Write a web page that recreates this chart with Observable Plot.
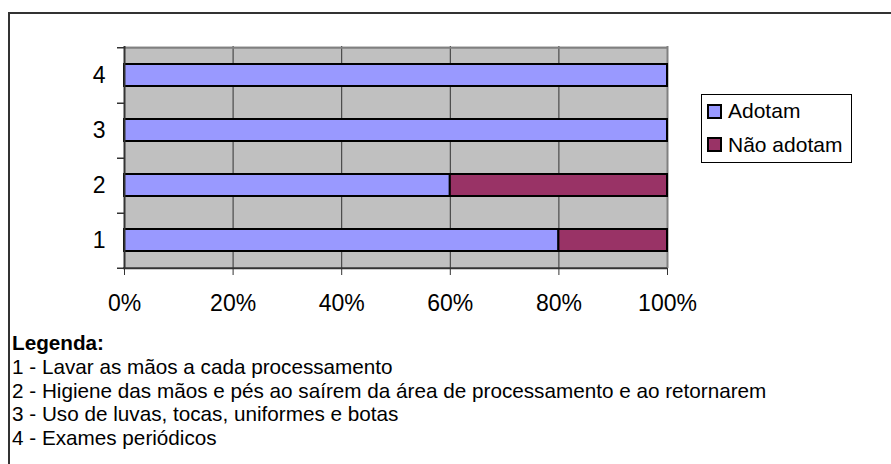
<!DOCTYPE html>
<html>
<head>
<meta charset="utf-8">
<script src="https://cdn.jsdelivr.net/npm/d3@7"></script>
<script src="https://cdn.jsdelivr.net/npm/@observablehq/plot@0.6"></script>
<style>
  html, body { margin: 0; padding: 0; background: #fff; }
  #wrap { position: relative; width: 891px; height: 464px; overflow: hidden; font-family: Arial, "Liberation Sans", sans-serif; color: #000; }
  #frame { position: absolute; left: 8px; top: 12px; width: 900px; height: 470px; border-top: 2px solid #333; border-left: 2px solid #333; }
  #chart { position: absolute; left: 0; top: 0; }
  #legend { position: absolute; left: 701px; top: 94px; width: 149px; height: 67px; border: 1px solid #000; background: #fff; }
  .sw { position: absolute; width: 11px; height: 11px; border: 2px solid #000; }
  .lt { position: absolute; font-size: 21px; line-height: 20px; white-space: nowrap; }
  #caption { position: absolute; left: 12px; top: 330px; font-size: 20.7px; white-space: nowrap; }
  #caption div { line-height: 23.5px; }
  #caption .h { font-weight: bold; line-height: 25px; }
</style>
</head>
<body>
<div id="wrap">
  <div id="frame"></div>
  <div id="chart"></div>
  <div id="legend"></div>
  <div id="caption"></div>
</div>
<script>
const categories = ["1", "2", "3", "4"];
const series = ["Adotam", "Não adotam"];
const adotam = [0.8, 0.6, 1.0, 1.0];
const naoAdotam = [0.2, 0.4, 0.0, 0.0];
const colors = ["#9999FF", "#993366"];
const xTicks = [0, 0.2, 0.4, 0.6, 0.8, 1.0];
const captionTitle = "Legenda:";
const captionLines = [
  "1 - Lavar as mãos a cada processamento",
  "2 - Higiene das mãos e pés ao saírem da área de processamento e ao retornarem",
  "3 - Uso de luvas, tocas, uniformes e botas",
  "4 - Exames periódicos"
];

const data = [];
categories.forEach((c, i) => data.push({cat: c, serie: series[0], value: adotam[i]}));
categories.forEach((c, i) => data.push({cat: c, serie: series[1], value: naoAdotam[i]}));
const bars = data.filter(d => d.value > 0);

const W = 891, H = 330;
const mT = 46, mB = H - 268, mL = 124, mR = W - 667;
const yOrder = categories.slice().reverse();
const step = (H - mT - mB) / categories.length;

const plot = Plot.plot({
  width: W,
  height: H,
  marginTop: mT,
  marginBottom: mB,
  marginLeft: mL,
  marginRight: mR,
  style: {background: "transparent", fontFamily: "Arial, 'Liberation Sans', sans-serif", color: "#000"},
  x: {domain: [0, 1], ticks: xTicks, tickFormat: d3.format(".0%"), tickSize: 7, tickPadding: 19, label: null},
  y: {domain: yOrder, paddingInner: 0.6, paddingOuter: 0.3, label: null, tickSize: 0, tickPadding: 19},
  color: {domain: series, range: colors},
  marks: [
    Plot.frame({fill: "#C0C0C0", stroke: null}),
    Plot.ruleX(xTicks.slice(1, -1), {stroke: "#333", strokeWidth: 1}),
    Plot.ruleY([yOrder[0]], {dy: -step / 2, stroke: "#808080", strokeWidth: 2}),
    Plot.ruleX([1], {stroke: "#808080", strokeWidth: 2}),
    Plot.barX(bars, {x: "value", y: "cat", fill: "serie", stroke: "#000", strokeWidth: 2}),
    Plot.ruleX([0], {stroke: "#333", strokeWidth: 2}),
    Plot.ruleY([yOrder[yOrder.length - 1]], {dy: step / 2, stroke: "#333", strokeWidth: 2, insetLeft: -1}),
    Plot.ruleY(yOrder, {y: d => d, dy: step / 2, x1: 0, x2: 0, insetLeft: -7, stroke: "#333", strokeWidth: 1.5}),
    Plot.ruleY([yOrder[0]], {dy: -step / 2, x1: 0, x2: 0, insetLeft: -7, stroke: "#333", strokeWidth: 1.5}),
    Plot.axisX({ticks: xTicks, tickFormat: d3.format(".0%"), tickSize: 7, tickPadding: 19, fontSize: 23, stroke: "#333", label: null}),
    Plot.axisY({tickSize: 0, tickPadding: 19, fontSize: 23, label: null})
  ]
});
document.getElementById("chart").appendChild(plot);

const legend = document.getElementById("legend");
const swTops = [104 - 95, 137 - 95];
const txtTops = [100.7 - 95, 135.4 - 95];
series.forEach((s, i) => {
  const sw = document.createElement("div");
  sw.className = "sw";
  sw.style.left = (707 - 702) + "px";
  sw.style.top = swTops[i] + "px";
  sw.style.background = colors[i];
  legend.appendChild(sw);
  const t = document.createElement("div");
  t.className = "lt";
  t.style.left = (728 - 702) + "px";
  t.style.top = txtTops[i] + "px";
  t.textContent = s;
  legend.appendChild(t);
});

const cap = document.getElementById("caption");
const h = document.createElement("div");
h.className = "h";
h.textContent = captionTitle;
cap.appendChild(h);
captionLines.forEach(l => {
  const d = document.createElement("div");
  d.textContent = l;
  cap.appendChild(d);
});
</script>
</body>
</html>
